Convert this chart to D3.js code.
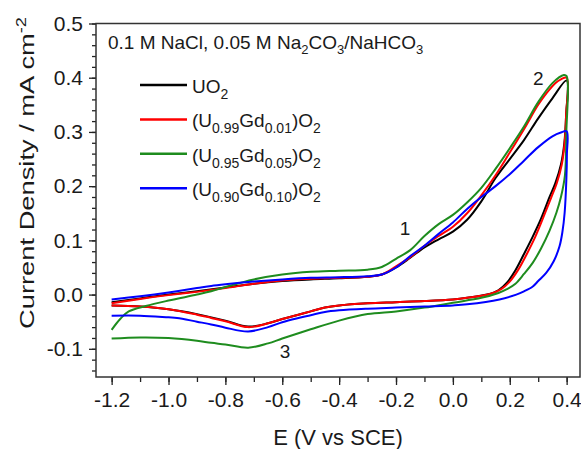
<!DOCTYPE html>
<html>
<head>
<meta charset="utf-8">
<script src="https://cdn.jsdelivr.net/npm/d3@7"></script>
<style>
  body { margin: 0; background: #fff; }
  text { font-family: "Liberation Sans", Arial, sans-serif; fill: #1a1a1a; }
</style>
</head>
<body>
<div id="chart"></div>
<script>
// tick values
const xTicks = [-1.2, -1.0, -0.8, -0.6, -0.4, -0.2, 0.0, 0.2, 0.4];
const yTicks = [-0.1, 0.0, 0.1, 0.2, 0.3, 0.4, 0.5];

// legend text pieces, odd entries are subscripts
const seriesNames = [
    ["UO", "2"],
    ["(U", "0.99", "Gd", "0.01", ")O", "2"],
    ["(U", "0.95", "Gd", "0.05", ")O", "2"],
    ["(U", "0.90", "Gd", "0.10", ")O", "2"]
];
const seriesColors = ["#000000", "#ff0000", "#1e8c1e", "#0000ff"];
const noteText = ["0.1 M NaCl, 0.05 M Na", "2", "CO", "3", "/NaHCO", "3"];

// [E (V vs SCE), current density (mA cm-2)], anodic scan then cathodic scan
const uo2Forward = [[-1.2, -0.014], [-1.1, -0.007], [-1.0, 0.0], [-0.9, 0.006], [-0.8, 0.013], [-0.7, 0.02],
    [-0.6, 0.025], [-0.5, 0.028], [-0.4, 0.03], [-0.3, 0.033], [-0.25, 0.037], [-0.2, 0.05], [-0.15, 0.068],
    [-0.1, 0.087], [-0.05, 0.102], [0.0, 0.116], [0.05, 0.138], [0.1, 0.172], [0.15, 0.215], [0.2, 0.25],
    [0.25, 0.285], [0.3, 0.325], [0.35, 0.362], [0.4, 0.395]];
const uo2Reverse = [[0.4, 0.395], [0.398, 0.33], [0.392, 0.28], [0.38, 0.24], [0.36, 0.205], [0.34, 0.18],
    [0.31, 0.14], [0.28, 0.106], [0.25, 0.075], [0.22, 0.045], [0.19, 0.022], [0.16, 0.008], [0.12, 0.0],
    [0.05, -0.006], [0.0, -0.009], [-0.1, -0.012], [-0.2, -0.014], [-0.3, -0.016], [-0.4, -0.02],
    [-0.45, -0.024], [-0.5, -0.031], [-0.55, -0.038], [-0.6, -0.045], [-0.65, -0.053], [-0.72, -0.059],
    [-0.8, -0.048], [-0.9, -0.036], [-1.0, -0.027], [-1.1, -0.022], [-1.2, -0.02]];

const gd01Forward = [[-1.2, -0.016], [-1.1, -0.008], [-1.0, -0.001], [-0.9, 0.005], [-0.8, 0.012], [-0.7, 0.02],
    [-0.6, 0.026], [-0.5, 0.029], [-0.4, 0.031], [-0.3, 0.033], [-0.25, 0.037], [-0.2, 0.052], [-0.15, 0.069],
    [-0.1, 0.09], [-0.05, 0.108], [0.0, 0.125], [0.05, 0.15], [0.1, 0.183], [0.15, 0.22], [0.2, 0.262],
    [0.25, 0.305], [0.3, 0.35], [0.33, 0.372], [0.36, 0.39], [0.38, 0.397], [0.4, 0.4]];
const gd01Reverse = [[0.4, 0.4], [0.398, 0.33], [0.393, 0.28], [0.383, 0.24], [0.365, 0.205], [0.345, 0.178],
    [0.32, 0.145], [0.29, 0.107], [0.26, 0.075], [0.23, 0.046], [0.2, 0.024], [0.17, 0.01], [0.13, 0.001],
    [0.05, -0.006], [0.0, -0.009], [-0.1, -0.012], [-0.2, -0.014], [-0.3, -0.016], [-0.4, -0.02],
    [-0.45, -0.024], [-0.5, -0.031], [-0.55, -0.038], [-0.6, -0.045], [-0.65, -0.053], [-0.72, -0.06],
    [-0.8, -0.049], [-0.85, -0.043], [-0.9, -0.037], [-1.0, -0.027], [-1.1, -0.022], [-1.2, -0.02]];

const gd05Forward = [[-1.2, -0.065], [-1.17, -0.045], [-1.14, -0.031], [-1.08, -0.021], [-1.0, -0.011],
    [-0.9, 0.0], [-0.85, 0.006], [-0.8, 0.014], [-0.7, 0.028], [-0.6, 0.037], [-0.5, 0.042], [-0.4, 0.044],
    [-0.3, 0.046], [-0.25, 0.051], [-0.2, 0.066], [-0.15, 0.082], [-0.1, 0.108], [-0.05, 0.13], [0.0, 0.147],
    [0.05, 0.17], [0.1, 0.197], [0.15, 0.232], [0.2, 0.27], [0.25, 0.31], [0.3, 0.355], [0.35, 0.39],
    [0.39, 0.405], [0.4, 0.403]];
const gd05Reverse = [[0.4, 0.403], [0.399, 0.3], [0.394, 0.22], [0.38, 0.18], [0.364, 0.151], [0.34, 0.118],
    [0.31, 0.085], [0.28, 0.058], [0.25, 0.038], [0.22, 0.02], [0.19, 0.01], [0.16, 0.003], [0.1, -0.006],
    [0.0, -0.015], [-0.1, -0.024], [-0.2, -0.031], [-0.3, -0.036], [-0.4, -0.048], [-0.5, -0.064],
    [-0.6, -0.081], [-0.65, -0.09], [-0.72, -0.098], [-0.8, -0.092], [-0.85, -0.089], [-0.9, -0.085],
    [-1.0, -0.08], [-1.1, -0.079], [-1.2, -0.081]];

const gd10Forward = [[-1.2, -0.009], [-1.1, -0.003], [-1.0, 0.004], [-0.9, 0.012], [-0.85, 0.016], [-0.8, 0.019],
    [-0.7, 0.024], [-0.6, 0.028], [-0.5, 0.031], [-0.4, 0.032], [-0.3, 0.034], [-0.25, 0.037], [-0.2, 0.05],
    [-0.15, 0.071], [-0.1, 0.09], [-0.05, 0.112], [0.0, 0.133], [0.05, 0.158], [0.1, 0.18], [0.15, 0.2],
    [0.2, 0.222], [0.25, 0.247], [0.3, 0.272], [0.35, 0.292], [0.38, 0.299], [0.4, 0.301]];
const gd10Reverse = [[0.4, 0.301], [0.401, 0.26], [0.399, 0.212], [0.393, 0.151], [0.385, 0.115], [0.375, 0.089],
    [0.355, 0.062], [0.328, 0.04], [0.3, 0.025], [0.281, 0.015], [0.25, 0.006], [0.223, 0.0], [0.164, -0.009],
    [0.05, -0.018], [0.0, -0.02], [-0.1, -0.022], [-0.2, -0.024], [-0.3, -0.026], [-0.4, -0.029],
    [-0.45, -0.032], [-0.5, -0.038], [-0.55, -0.044], [-0.6, -0.051], [-0.65, -0.06], [-0.72, -0.068],
    [-0.8, -0.061], [-0.85, -0.055], [-0.9, -0.05], [-0.97, -0.043], [-1.0, -0.042], [-1.1, -0.039],
    [-1.2, -0.039]];

const seriesData = [
    uo2Forward.concat(uo2Reverse.slice(1)),
    gd01Forward.concat(gd01Reverse.slice(1)),
    gd05Forward.concat(gd05Reverse.slice(1)),
    gd10Forward.concat(gd10Reverse.slice(1))
];

// peak labels
const peakLabels = [["1", -0.168, 0.11], ["2", 0.3, 0.386], ["3", -0.59, -0.117]];

const width = 581, height = 449;
const margin = {top: 23.5, right: 1, bottom: 72, left: 96};

const svg = d3.select("#chart").append("svg")
    .attr("width", width)
    .attr("height", height);

const x = d3.scaleLinear().domain([-1.255, 0.447]).range([margin.left, width - margin.right]);
const y = d3.scaleLinear().domain([-0.152, 0.5]).range([height - margin.bottom, margin.top]);

// minor ticks first, then major with labels
svg.append("g")
    .attr("transform", `translate(0,${height - margin.bottom})`)
    .call(d3.axisBottom(x).tickValues(d3.range(-1.2, 0.41, 0.1)).tickSize(5).tickFormat(""))
    .call(g => g.select(".domain").remove());
svg.append("g")
    .attr("transform", `translate(0,${height - margin.bottom})`)
    .call(d3.axisBottom(x).tickValues(xTicks).tickSize(8).tickPadding(7)
        .tickFormat(d => d.toFixed(1)))
    .call(g => g.select(".domain").remove())
    .call(g => g.selectAll("text").style("font-size", "21px").attr("fill", "#1a1a1a")
        .attr("font-family", "Liberation Sans, Arial, sans-serif"));

svg.append("g")
    .attr("transform", `translate(${margin.left},0)`)
    .call(d3.axisLeft(y).tickValues(d3.range(-0.14, 0.501, 0.02)).tickSize(4).tickFormat(""))
    .call(g => g.select(".domain").remove());
svg.append("g")
    .attr("transform", `translate(${margin.left},0)`)
    .call(d3.axisLeft(y).tickValues(yTicks).tickSize(7).tickPadding(6)
        .tickFormat(d => d.toFixed(1)))
    .call(g => g.select(".domain").remove())
    .call(g => g.selectAll("text").style("font-size", "21px").attr("fill", "#1a1a1a")
        .attr("font-family", "Liberation Sans, Arial, sans-serif"));

svg.selectAll(".tick line").attr("stroke", "#222").attr("stroke-width", 1.3);

// frame
svg.append("rect")
    .attr("x", margin.left)
    .attr("y", margin.top)
    .attr("width", width - margin.right - margin.left)
    .attr("height", height - margin.bottom - margin.top)
    .attr("fill", "none")
    .attr("stroke", "#333")
    .attr("stroke-width", 1.5);

// writes text with subscript pieces (odd entries)
function richText(sel, parts, subSize, shift) {
    parts.forEach((p, i) => {
        const sub = i % 2 === 1;
        sel.append("tspan")
            .attr("dy", i === 0 ? 0 : (sub ? shift : -shift))
            .style("font-size", sub ? subSize + "px" : null)
            .text(p);
    });
}

const line = d3.line()
    .x(d => x(d[0]))
    .y(d => y(d[1]))
    .curve(d3.curveCatmullRom.alpha(0.5));

svg.selectAll(".cv")
    .data(seriesData)
    .join("path")
    .attr("class", "cv")
    .attr("d", line)
    .attr("fill", "none")
    .attr("stroke", (d, i) => seriesColors[i])
    .attr("stroke-width", 2)
    .attr("stroke-linejoin", "round");

// electrolyte note
richText(svg.append("text")
    .attr("x", 108)
    .attr("y", 49)
    .style("font-size", "19px"), noteText, 13, 5);

// legend
const legend = svg.append("g").attr("transform", "translate(140,85)");
seriesNames.forEach((parts, i) => {
    const row = legend.append("g").attr("transform", `translate(0,${i * 34.4})`);
    row.append("line")
        .attr("x1", 0).attr("x2", 47)
        .attr("stroke", seriesColors[i])
        .attr("stroke-width", 2.5);
    richText(row.append("text")
        .attr("x", 52)
        .attr("y", 8)
        .style("font-size", "19px"), parts, 14, 6);
});

// peak numbers
svg.selectAll(".peak")
    .data(peakLabels)
    .join("text")
    .attr("class", "peak")
    .attr("x", d => x(d[1]))
    .attr("y", d => y(d[2]))
    .attr("text-anchor", "middle")
    .style("font-size", "19px")
    .text(d => d[0]);

// axis titles
svg.append("text")
    .attr("x", (margin.left + width - margin.right) / 2)
    .attr("y", 445)
    .attr("text-anchor", "middle")
    .style("font-size", "22px")
    .text("E (V vs SCE)");

const yTitle = svg.append("text")
    .attr("transform", "translate(34,173) rotate(-90) scale(1.3,1)")
    .attr("text-anchor", "middle")
    .style("font-size", "21px");
yTitle.append("tspan").text("Current Density / mA cm");
yTitle.append("tspan").attr("dy", -8).style("font-size", "14px").text("-2");
</script>
</body>
</html>
